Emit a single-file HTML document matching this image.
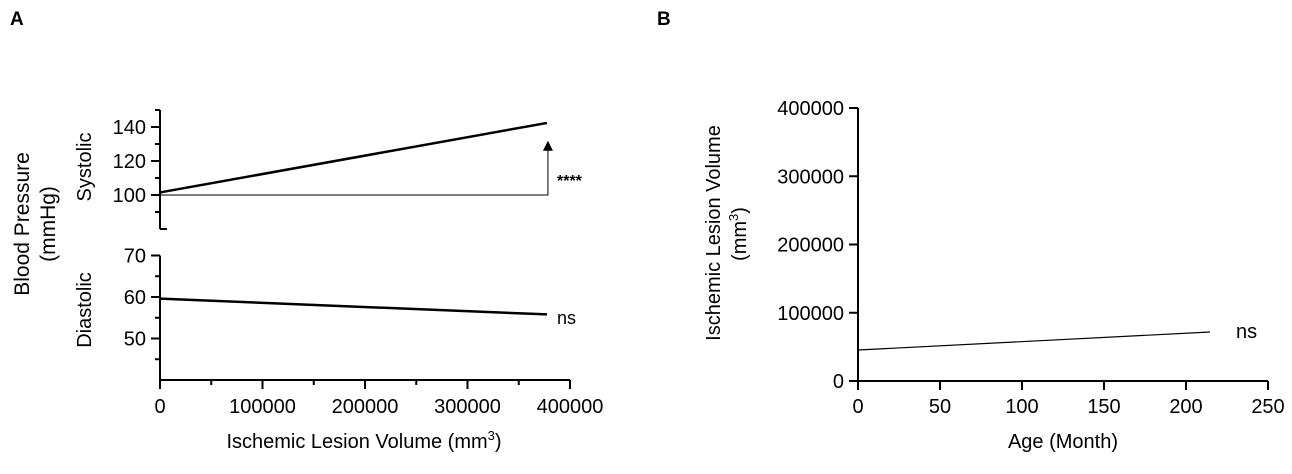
<!DOCTYPE html>
<html><head><meta charset="utf-8"><style>
html,body{margin:0;padding:0;background:#fff;}
svg{display:block;font-family:"Liberation Sans",Arial,sans-serif;}
</style></head><body>
<svg id="c" width="1292" height="474" viewBox="0 0 1292 474"></svg>
<script>
const sysX=[0,377500], sysY=[101.5,142.4];
const diaX=[0,377500], diaY=[59.6,55.8];
const bX=[0,214.6], bY=[45400,71800];
const aXTicks=[0,100000,200000,300000,400000];
const sysTicks=[100,120,140];
const diaTicks=[50,60,70];
const bXTicks=[0,50,100,150,200,250];
const bYTicks=[0,100000,200000,300000,400000];
const NS='http://www.w3.org/2000/svg', svg=document.getElementById('c');
function el(t,a,txt){const e=document.createElementNS(NS,t);for(const k in a)e.setAttribute(k,a[k]);if(txt!=null)e.textContent=txt;svg.appendChild(e);return e;}
const ax=v=>160+v/400000*410;
const sy=v=>195-(v-100)*1.7;
const dy=v=>297-(v-60)*4.15;
const bx=v=>858+v/250*410;
const by=v=>381-v/400000*273;
const TF=20;
let e;
e=el('text',{x:10,y:25,'font-size':19,'font-weight':'bold'},'A');


e=el('text',{x:657,y:25,'font-size':19,'font-weight':'bold'},'B');


// Panel A axes
e=el('line',{x1:160,y1:sy(150),x2:160,y2:sy(80),stroke:'#000','stroke-width':2});


el('line',{x1:160,y1:sy(80),x2:167,y2:sy(80),stroke:'#000','stroke-width':2});
for(let v=90;v<=150;v+=10){const maj=sysTicks.includes(v);
 e=el('line',{x1:maj?151:155,y1:sy(v),x2:160,y2:sy(v),stroke:'#000','stroke-width':2});
 
 
 if(maj){e=el('text',{x:146,y:sy(v)+7,'font-size':TF,'text-anchor':'end'},v);
 
 }}
e=el('line',{x1:160,y1:dy(70),x2:160,y2:380,stroke:'#000','stroke-width':2});


for(let v=45;v<=70;v+=5){const maj=diaTicks.includes(v);
 e=el('line',{x1:maj?151:155,y1:dy(v),x2:160,y2:dy(v),stroke:'#000','stroke-width':2});
 
 
 if(maj){e=el('text',{x:146,y:dy(v)+7,'font-size':TF,'text-anchor':'end'},v);
 
 }}
e=el('line',{x1:159,y1:380,x2:ax(400000),y2:380,stroke:'#000','stroke-width':2});


for(let v=0;v<=400000;v+=50000){const maj=aXTicks.includes(v);
 e=el('line',{x1:ax(v),y1:380,x2:ax(v),y2:maj?389:385,stroke:'#000','stroke-width':2});
 
 
 if(maj){e=el('text',{x:ax(v),y:413,'font-size':TF,'text-anchor':'middle'},v);
 
 }}
// series A
e=el('line',{x1:ax(sysX[0]),y1:sy(sysY[0]),x2:ax(sysX[1]),y2:sy(sysY[1]),stroke:'#000','stroke-width':2.5});


e=el('polyline',{points:`${ax(0)},${sy(100)} ${ax(sysX[1])+1},${sy(100)} ${ax(sysX[1])+1},${sy(127)}`,fill:'none',stroke:'#000','stroke-width':1});


const axx=ax(sysX[1])+1;
e=el('polygon',{points:`${axx-5},${sy(126)} ${axx+5},${sy(126)} ${axx},${sy(126)-10}`,fill:'#000'});


e=el('text',{x:557,y:186,'font-size':16,'font-weight':'bold'},'****');


e=el('line',{x1:ax(diaX[0]),y1:dy(diaY[0]),x2:ax(diaX[1]),y2:dy(diaY[1]),stroke:'#000','stroke-width':2.5});


e=el('text',{x:557,y:324,'font-size':18},'ns');


// A titles
e=el('text',{transform:'translate(29,224) rotate(-90)','font-size':21,'text-anchor':'middle'},'Blood Pressure');


e=el('text',{transform:'translate(55,224) rotate(-90)','font-size':21,'text-anchor':'middle'},'(mmHg)');


e=el('text',{transform:'translate(91,167) rotate(-90)','font-size':20,'text-anchor':'middle'},'Systolic');


e=el('text',{transform:'translate(91,310) rotate(-90)','font-size':20,'text-anchor':'middle'},'Diastolic');


e=el('text',{x:364,y:448,'font-size':20,'text-anchor':'middle'});
e.innerHTML='Ischemic Lesion Volume (mm<tspan dy="-8" font-size="13">3</tspan><tspan dy="8">)</tspan>';


// Panel B
e=el('line',{x1:858,y1:by(400000),x2:858,y2:382,stroke:'#000','stroke-width':2});


bYTicks.forEach(v=>{
 e=el('line',{x1:849,y1:by(v),x2:858,y2:by(v),stroke:'#000','stroke-width':2});
 
 
 e=el('text',{x:844,y:by(v)+7,'font-size':TF,'text-anchor':'end'},v);
 
 });
e=el('line',{x1:857,y1:381,x2:bx(250),y2:381,stroke:'#000','stroke-width':2});


bXTicks.forEach(v=>{
 e=el('line',{x1:bx(v),y1:381,x2:bx(v),y2:390,stroke:'#000','stroke-width':2});
 
 
 e=el('text',{x:bx(v),y:413,'font-size':TF,'text-anchor':'middle'},v);
 
 });
e=el('line',{x1:bx(bX[0]),y1:by(bY[0]),x2:bx(bX[1]),y2:by(bY[1]),stroke:'#000','stroke-width':1.2});


e=el('text',{x:1236,y:338,'font-size':20},'ns');


e=el('text',{transform:'translate(720,233) rotate(-90)','font-size':20,'text-anchor':'middle'},'Ischemic Lesion Volume');


e=el('text',{transform:'translate(746,234) rotate(-90)','font-size':20,'text-anchor':'middle'});
e.innerHTML='(mm<tspan dy="-8" font-size="13">3</tspan><tspan dy="8">)</tspan>';


e=el('text',{x:1063,y:448,'font-size':20,'text-anchor':'middle'},'Age (Month)');


</script>
</body></html>
